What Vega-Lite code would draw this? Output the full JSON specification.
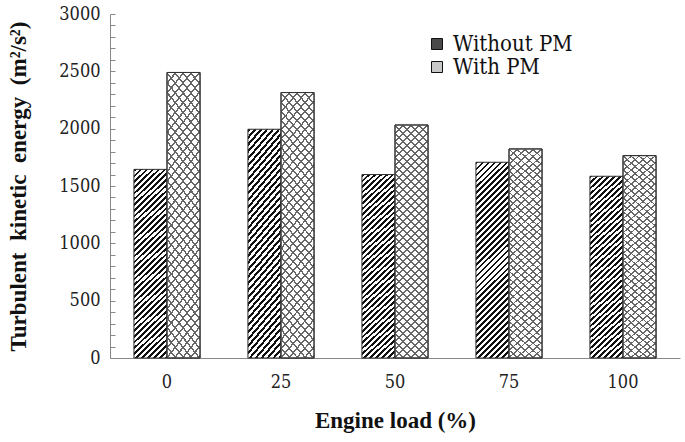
{
  "$schema": "https://vega.github.io/schema/vega-lite/v6.json",
  "width": 570,
  "height": 344,
  "autosize": "none",
  "padding": {"left": 110, "top": 14, "right": 5, "bottom": 84},
  "background": "white",
  "config": {
    "view": {"stroke": null},
    "font": "Liberation Serif",
    "axis": {"labelFont": "DejaVu Serif Condensed, DejaVu Serif", "titleFont": "Liberation Serif"},
    "legend": {"labelFont": "DejaVu Serif Condensed, DejaVu Serif", "titleFont": "Liberation Serif"}
  },
  "data": {
    "values": [
      {"load": "0", "series": "Without PM", "value": 1645},
      {"load": "0", "series": "With PM", "value": 2490},
      {"load": "25", "series": "Without PM", "value": 1995},
      {"load": "25", "series": "With PM", "value": 2315},
      {"load": "50", "series": "Without PM", "value": 1600},
      {"load": "50", "series": "With PM", "value": 2032},
      {"load": "75", "series": "Without PM", "value": 1707},
      {"load": "75", "series": "With PM", "value": 1823},
      {"load": "100", "series": "Without PM", "value": 1585},
      {"load": "100", "series": "With PM", "value": 1765}
    ]
  },
  "encoding": {
    "x": {
      "field": "load", "type": "nominal", "sort": ["0", "25", "50", "75", "100"],
      "scale": {"paddingInner": 0.42, "paddingOuter": 0.21},
      "axis": {
        "title": "Engine load (%)", "labelAngle": 0, "ticks": false, "domainColor": "#888",
        "labelFont": "DejaVu Serif Condensed, DejaVu Serif", "titleFont": "Liberation Serif",
        "labelFontSize": 18, "labelColor": "#222", "labelPadding": 15,
        "titleFontSize": 23, "titleFontWeight": "bold", "titleColor": "#111", "titlePadding": 18
      }
    },
    "xOffset": {
      "field": "series", "type": "nominal", "sort": ["Without PM", "With PM"],
      "scale": {"domain": ["Without PM", "With PM"], "paddingInner": 0, "paddingOuter": 0}
    },
    "y": {
      "field": "value", "type": "quantitative",
      "scale": {"domain": [0, 3000], "nice": false},
      "axis": {
        "title": "Turbulent\u00a0 kinetic\u00a0 energy\u00a0 (m²/s²)", "grid": false, "format": "d",
        "values": [0,100,200,300,400,500,600,700,800,900,1000,1100,1200,1300,1400,1500,1600,1700,1800,1900,2000,2100,2200,2300,2400,2500,2600,2700,2800,2900,3000],
        "labelExpr": "datum.value % 500 === 0 ? datum.label : ''",
        "tickSize": -5, "tickColor": "#888", "domainColor": "#888",
        "labelFont": "DejaVu Serif Condensed, DejaVu Serif", "titleFont": "Liberation Serif",
        "labelPadding": 15, "labelFontSize": 18, "labelColor": "#222",
        "titleFontSize": 23, "titleFontWeight": "bold", "titleColor": "#111", "titlePadding": 28
      }
    }
  },
  "layer": [
    {
      "mark": {"type": "bar"},
      "encoding": {
        "fill": {
          "field": "series", "type": "nominal",
          "scale": {"domain": ["Without PM", "With PM"], "range": ["#4a4a4a", "#c8c8c8"]},
          "legend": {
            "title": null, "orient": "none", "legendX": 316, "legendY": 19,
            "labelFont": "DejaVu Serif Condensed, DejaVu Serif", "labelFontSize": 22, "labelColor": "#111",
            "symbolType": "square", "symbolSize": 121, "symbolOpacity": 1,
            "symbolStrokeColor": "#111", "symbolStrokeWidth": 1, "rowPadding": 1, "labelOffset": 5
          }
        }
      }
    },
    {
      "transform": [{"filter": "datum.series === 'Without PM'"}],
      "mark": {
        "type": "bar", "stroke": "#333", "strokeWidth": 1,
        "fill": {"gradient": "linear", "x1": 0, "y1": 0, "x2": 0.1913, "y2": 1.136, "stops": [
                {"offset":0,"color":"#111"},{"offset":0.012,"color":"#111"},{"offset":0.012,"color":"#fff"},{"offset":0.026,"color":"#fff"},
                {"offset":0.026,"color":"#111"},{"offset":0.038,"color":"#111"},{"offset":0.038,"color":"#fff"},{"offset":0.052,"color":"#fff"},
                {"offset":0.052,"color":"#111"},{"offset":0.064,"color":"#111"},{"offset":0.064,"color":"#fff"},{"offset":0.078,"color":"#fff"},
                {"offset":0.078,"color":"#111"},{"offset":0.09,"color":"#111"},{"offset":0.09,"color":"#fff"},{"offset":0.104,"color":"#fff"},
                {"offset":0.104,"color":"#111"},{"offset":0.116,"color":"#111"},{"offset":0.116,"color":"#fff"},{"offset":0.13,"color":"#fff"},
                {"offset":0.13,"color":"#111"},{"offset":0.142,"color":"#111"},{"offset":0.142,"color":"#fff"},{"offset":0.156,"color":"#fff"},
                {"offset":0.156,"color":"#111"},{"offset":0.168,"color":"#111"},{"offset":0.168,"color":"#fff"},{"offset":0.182,"color":"#fff"},
                {"offset":0.182,"color":"#111"},{"offset":0.194,"color":"#111"},{"offset":0.194,"color":"#fff"},{"offset":0.208,"color":"#fff"},
                {"offset":0.208,"color":"#111"},{"offset":0.22,"color":"#111"},{"offset":0.22,"color":"#fff"},{"offset":0.234,"color":"#fff"},
                {"offset":0.234,"color":"#111"},{"offset":0.246,"color":"#111"},{"offset":0.246,"color":"#fff"},{"offset":0.26,"color":"#fff"},
                {"offset":0.26,"color":"#111"},{"offset":0.272,"color":"#111"},{"offset":0.272,"color":"#fff"},{"offset":0.286,"color":"#fff"},
                {"offset":0.286,"color":"#111"},{"offset":0.298,"color":"#111"},{"offset":0.298,"color":"#fff"},{"offset":0.312,"color":"#fff"},
                {"offset":0.312,"color":"#111"},{"offset":0.324,"color":"#111"},{"offset":0.324,"color":"#fff"},{"offset":0.338,"color":"#fff"},
                {"offset":0.338,"color":"#111"},{"offset":0.35,"color":"#111"},{"offset":0.35,"color":"#fff"},{"offset":0.364,"color":"#fff"},
                {"offset":0.364,"color":"#111"},{"offset":0.376,"color":"#111"},{"offset":0.376,"color":"#fff"},{"offset":0.39,"color":"#fff"},
                {"offset":0.39,"color":"#111"},{"offset":0.402,"color":"#111"},{"offset":0.402,"color":"#fff"},{"offset":0.416,"color":"#fff"},
                {"offset":0.416,"color":"#111"},{"offset":0.428,"color":"#111"},{"offset":0.428,"color":"#fff"},{"offset":0.442,"color":"#fff"},
                {"offset":0.442,"color":"#111"},{"offset":0.454,"color":"#111"},{"offset":0.454,"color":"#fff"},{"offset":0.468,"color":"#fff"},
                {"offset":0.468,"color":"#111"},{"offset":0.48,"color":"#111"},{"offset":0.48,"color":"#fff"},{"offset":0.494,"color":"#fff"},
                {"offset":0.494,"color":"#111"},{"offset":0.506,"color":"#111"},{"offset":0.506,"color":"#fff"},{"offset":0.52,"color":"#fff"},
                {"offset":0.52,"color":"#111"},{"offset":0.532,"color":"#111"},{"offset":0.532,"color":"#fff"},{"offset":0.546,"color":"#fff"},
                {"offset":0.546,"color":"#111"},{"offset":0.558,"color":"#111"},{"offset":0.558,"color":"#fff"},{"offset":0.572,"color":"#fff"},
                {"offset":0.572,"color":"#111"},{"offset":0.584,"color":"#111"},{"offset":0.584,"color":"#fff"},{"offset":0.598,"color":"#fff"},
                {"offset":0.598,"color":"#111"},{"offset":0.61,"color":"#111"},{"offset":0.61,"color":"#fff"},{"offset":0.624,"color":"#fff"},
                {"offset":0.624,"color":"#111"},{"offset":0.636,"color":"#111"},{"offset":0.636,"color":"#fff"},{"offset":0.65,"color":"#fff"},
                {"offset":0.65,"color":"#111"},{"offset":0.662,"color":"#111"},{"offset":0.662,"color":"#fff"},{"offset":0.676,"color":"#fff"},
                {"offset":0.676,"color":"#111"},{"offset":0.688,"color":"#111"},{"offset":0.688,"color":"#fff"},{"offset":0.702,"color":"#fff"},
                {"offset":0.702,"color":"#111"},{"offset":0.714,"color":"#111"},{"offset":0.714,"color":"#fff"},{"offset":0.728,"color":"#fff"},
                {"offset":0.728,"color":"#111"},{"offset":0.74,"color":"#111"},{"offset":0.74,"color":"#fff"},{"offset":0.754,"color":"#fff"},
                {"offset":0.754,"color":"#111"},{"offset":0.766,"color":"#111"},{"offset":0.766,"color":"#fff"},{"offset":0.78,"color":"#fff"},
                {"offset":0.78,"color":"#111"},{"offset":0.792,"color":"#111"},{"offset":0.792,"color":"#fff"},{"offset":0.806,"color":"#fff"},
                {"offset":0.806,"color":"#111"},{"offset":0.818,"color":"#111"},{"offset":0.818,"color":"#fff"},{"offset":0.832,"color":"#fff"},
                {"offset":0.832,"color":"#111"},{"offset":0.844,"color":"#111"},{"offset":0.844,"color":"#fff"},{"offset":0.858,"color":"#fff"},
                {"offset":0.858,"color":"#111"},{"offset":0.87,"color":"#111"},{"offset":0.87,"color":"#fff"},{"offset":0.884,"color":"#fff"},
                {"offset":0.884,"color":"#111"},{"offset":0.896,"color":"#111"},{"offset":0.896,"color":"#fff"},{"offset":0.91,"color":"#fff"},
                {"offset":0.91,"color":"#111"},{"offset":0.922,"color":"#111"},{"offset":0.922,"color":"#fff"},{"offset":0.936,"color":"#fff"},
                {"offset":0.936,"color":"#111"},{"offset":0.948,"color":"#111"},{"offset":0.948,"color":"#fff"},{"offset":0.962,"color":"#fff"},
                {"offset":0.962,"color":"#111"},{"offset":0.974,"color":"#111"},{"offset":0.974,"color":"#fff"},{"offset":0.988,"color":"#fff"},
                {"offset":0.988,"color":"#111"},{"offset":1,"color":"#111"}
        ]}
      },
      "encoding": {}
    },
    {
      "transform": [{"filter": "datum.series === 'With PM'"}],
      "mark": {
        "type": "bar", "stroke": "#333", "strokeWidth": 1,
        "fill": {"gradient": "linear", "x1": 0, "y1": 0, "x2": 0.1607, "y2": 1.12, "stops": [
                {"offset":0,"color":"#666"},{"offset":0.007,"color":"#666"},{"offset":0.007,"color":"#fff"},{"offset":0.03,"color":"#fff"},
                {"offset":0.03,"color":"#666"},{"offset":0.037,"color":"#666"},{"offset":0.037,"color":"#fff"},{"offset":0.06,"color":"#fff"},
                {"offset":0.06,"color":"#666"},{"offset":0.067,"color":"#666"},{"offset":0.067,"color":"#fff"},{"offset":0.09,"color":"#fff"},
                {"offset":0.09,"color":"#666"},{"offset":0.097,"color":"#666"},{"offset":0.097,"color":"#fff"},{"offset":0.12,"color":"#fff"},
                {"offset":0.12,"color":"#666"},{"offset":0.127,"color":"#666"},{"offset":0.127,"color":"#fff"},{"offset":0.15,"color":"#fff"},
                {"offset":0.15,"color":"#666"},{"offset":0.157,"color":"#666"},{"offset":0.157,"color":"#fff"},{"offset":0.18,"color":"#fff"},
                {"offset":0.18,"color":"#666"},{"offset":0.187,"color":"#666"},{"offset":0.187,"color":"#fff"},{"offset":0.21,"color":"#fff"},
                {"offset":0.21,"color":"#666"},{"offset":0.217,"color":"#666"},{"offset":0.217,"color":"#fff"},{"offset":0.24,"color":"#fff"},
                {"offset":0.24,"color":"#666"},{"offset":0.247,"color":"#666"},{"offset":0.247,"color":"#fff"},{"offset":0.27,"color":"#fff"},
                {"offset":0.27,"color":"#666"},{"offset":0.277,"color":"#666"},{"offset":0.277,"color":"#fff"},{"offset":0.3,"color":"#fff"},
                {"offset":0.3,"color":"#666"},{"offset":0.307,"color":"#666"},{"offset":0.307,"color":"#fff"},{"offset":0.33,"color":"#fff"},
                {"offset":0.33,"color":"#666"},{"offset":0.337,"color":"#666"},{"offset":0.337,"color":"#fff"},{"offset":0.36,"color":"#fff"},
                {"offset":0.36,"color":"#666"},{"offset":0.367,"color":"#666"},{"offset":0.367,"color":"#fff"},{"offset":0.39,"color":"#fff"},
                {"offset":0.39,"color":"#666"},{"offset":0.397,"color":"#666"},{"offset":0.397,"color":"#fff"},{"offset":0.42,"color":"#fff"},
                {"offset":0.42,"color":"#666"},{"offset":0.427,"color":"#666"},{"offset":0.427,"color":"#fff"},{"offset":0.45,"color":"#fff"},
                {"offset":0.45,"color":"#666"},{"offset":0.457,"color":"#666"},{"offset":0.457,"color":"#fff"},{"offset":0.48,"color":"#fff"},
                {"offset":0.48,"color":"#666"},{"offset":0.487,"color":"#666"},{"offset":0.487,"color":"#fff"},{"offset":0.51,"color":"#fff"},
                {"offset":0.51,"color":"#666"},{"offset":0.517,"color":"#666"},{"offset":0.517,"color":"#fff"},{"offset":0.54,"color":"#fff"},
                {"offset":0.54,"color":"#666"},{"offset":0.547,"color":"#666"},{"offset":0.547,"color":"#fff"},{"offset":0.57,"color":"#fff"},
                {"offset":0.57,"color":"#666"},{"offset":0.577,"color":"#666"},{"offset":0.577,"color":"#fff"},{"offset":0.6,"color":"#fff"},
                {"offset":0.6,"color":"#666"},{"offset":0.607,"color":"#666"},{"offset":0.607,"color":"#fff"},{"offset":0.63,"color":"#fff"},
                {"offset":0.63,"color":"#666"},{"offset":0.637,"color":"#666"},{"offset":0.637,"color":"#fff"},{"offset":0.66,"color":"#fff"},
                {"offset":0.66,"color":"#666"},{"offset":0.667,"color":"#666"},{"offset":0.667,"color":"#fff"},{"offset":0.69,"color":"#fff"},
                {"offset":0.69,"color":"#666"},{"offset":0.697,"color":"#666"},{"offset":0.697,"color":"#fff"},{"offset":0.72,"color":"#fff"},
                {"offset":0.72,"color":"#666"},{"offset":0.727,"color":"#666"},{"offset":0.727,"color":"#fff"},{"offset":0.75,"color":"#fff"},
                {"offset":0.75,"color":"#666"},{"offset":0.757,"color":"#666"},{"offset":0.757,"color":"#fff"},{"offset":0.78,"color":"#fff"},
                {"offset":0.78,"color":"#666"},{"offset":0.787,"color":"#666"},{"offset":0.787,"color":"#fff"},{"offset":0.81,"color":"#fff"},
                {"offset":0.81,"color":"#666"},{"offset":0.817,"color":"#666"},{"offset":0.817,"color":"#fff"},{"offset":0.84,"color":"#fff"},
                {"offset":0.84,"color":"#666"},{"offset":0.847,"color":"#666"},{"offset":0.847,"color":"#fff"},{"offset":0.87,"color":"#fff"},
                {"offset":0.87,"color":"#666"},{"offset":0.877,"color":"#666"},{"offset":0.877,"color":"#fff"},{"offset":0.9,"color":"#fff"},
                {"offset":0.9,"color":"#666"},{"offset":0.907,"color":"#666"},{"offset":0.907,"color":"#fff"},{"offset":0.93,"color":"#fff"},
                {"offset":0.93,"color":"#666"},{"offset":0.937,"color":"#666"},{"offset":0.937,"color":"#fff"},{"offset":0.96,"color":"#fff"},
                {"offset":0.96,"color":"#666"},{"offset":0.967,"color":"#666"},{"offset":0.967,"color":"#fff"},{"offset":0.99,"color":"#fff"},
                {"offset":0.99,"color":"#666"},{"offset":0.997,"color":"#666"},{"offset":0.997,"color":"#fff"},{"offset":1,"color":"#fff"}
        ]}
      },
      "encoding": {}
    },
    {
      "transform": [{"filter": "datum.series === 'With PM'"}],
      "mark": {
        "type": "bar", "stroke": "#333", "strokeWidth": 1,
        "fill": {"gradient": "linear", "x1": 0, "y1": 1, "x2": 0.1607, "y2": -0.12, "stops": [
          {"offset":0,"color":"#666"},{"offset":0.007,"color":"#666"},{"offset":0.007,"color":"rgba(255,255,255,0)"},{"offset":0.03,"color":"rgba(255,255,255,0)"},
          {"offset":0.03,"color":"#666"},{"offset":0.037,"color":"#666"},{"offset":0.037,"color":"rgba(255,255,255,0)"},{"offset":0.06,"color":"rgba(255,255,255,0)"},
          {"offset":0.06,"color":"#666"},{"offset":0.067,"color":"#666"},{"offset":0.067,"color":"rgba(255,255,255,0)"},{"offset":0.09,"color":"rgba(255,255,255,0)"},
          {"offset":0.09,"color":"#666"},{"offset":0.097,"color":"#666"},{"offset":0.097,"color":"rgba(255,255,255,0)"},{"offset":0.12,"color":"rgba(255,255,255,0)"},
          {"offset":0.12,"color":"#666"},{"offset":0.127,"color":"#666"},{"offset":0.127,"color":"rgba(255,255,255,0)"},{"offset":0.15,"color":"rgba(255,255,255,0)"},
          {"offset":0.15,"color":"#666"},{"offset":0.157,"color":"#666"},{"offset":0.157,"color":"rgba(255,255,255,0)"},{"offset":0.18,"color":"rgba(255,255,255,0)"},
          {"offset":0.18,"color":"#666"},{"offset":0.187,"color":"#666"},{"offset":0.187,"color":"rgba(255,255,255,0)"},{"offset":0.21,"color":"rgba(255,255,255,0)"},
          {"offset":0.21,"color":"#666"},{"offset":0.217,"color":"#666"},{"offset":0.217,"color":"rgba(255,255,255,0)"},{"offset":0.24,"color":"rgba(255,255,255,0)"},
          {"offset":0.24,"color":"#666"},{"offset":0.247,"color":"#666"},{"offset":0.247,"color":"rgba(255,255,255,0)"},{"offset":0.27,"color":"rgba(255,255,255,0)"},
          {"offset":0.27,"color":"#666"},{"offset":0.277,"color":"#666"},{"offset":0.277,"color":"rgba(255,255,255,0)"},{"offset":0.3,"color":"rgba(255,255,255,0)"},
          {"offset":0.3,"color":"#666"},{"offset":0.307,"color":"#666"},{"offset":0.307,"color":"rgba(255,255,255,0)"},{"offset":0.33,"color":"rgba(255,255,255,0)"},
          {"offset":0.33,"color":"#666"},{"offset":0.337,"color":"#666"},{"offset":0.337,"color":"rgba(255,255,255,0)"},{"offset":0.36,"color":"rgba(255,255,255,0)"},
          {"offset":0.36,"color":"#666"},{"offset":0.367,"color":"#666"},{"offset":0.367,"color":"rgba(255,255,255,0)"},{"offset":0.39,"color":"rgba(255,255,255,0)"},
          {"offset":0.39,"color":"#666"},{"offset":0.397,"color":"#666"},{"offset":0.397,"color":"rgba(255,255,255,0)"},{"offset":0.42,"color":"rgba(255,255,255,0)"},
          {"offset":0.42,"color":"#666"},{"offset":0.427,"color":"#666"},{"offset":0.427,"color":"rgba(255,255,255,0)"},{"offset":0.45,"color":"rgba(255,255,255,0)"},
          {"offset":0.45,"color":"#666"},{"offset":0.457,"color":"#666"},{"offset":0.457,"color":"rgba(255,255,255,0)"},{"offset":0.48,"color":"rgba(255,255,255,0)"},
          {"offset":0.48,"color":"#666"},{"offset":0.487,"color":"#666"},{"offset":0.487,"color":"rgba(255,255,255,0)"},{"offset":0.51,"color":"rgba(255,255,255,0)"},
          {"offset":0.51,"color":"#666"},{"offset":0.517,"color":"#666"},{"offset":0.517,"color":"rgba(255,255,255,0)"},{"offset":0.54,"color":"rgba(255,255,255,0)"},
          {"offset":0.54,"color":"#666"},{"offset":0.547,"color":"#666"},{"offset":0.547,"color":"rgba(255,255,255,0)"},{"offset":0.57,"color":"rgba(255,255,255,0)"},
          {"offset":0.57,"color":"#666"},{"offset":0.577,"color":"#666"},{"offset":0.577,"color":"rgba(255,255,255,0)"},{"offset":0.6,"color":"rgba(255,255,255,0)"},
          {"offset":0.6,"color":"#666"},{"offset":0.607,"color":"#666"},{"offset":0.607,"color":"rgba(255,255,255,0)"},{"offset":0.63,"color":"rgba(255,255,255,0)"},
          {"offset":0.63,"color":"#666"},{"offset":0.637,"color":"#666"},{"offset":0.637,"color":"rgba(255,255,255,0)"},{"offset":0.66,"color":"rgba(255,255,255,0)"},
          {"offset":0.66,"color":"#666"},{"offset":0.667,"color":"#666"},{"offset":0.667,"color":"rgba(255,255,255,0)"},{"offset":0.69,"color":"rgba(255,255,255,0)"},
          {"offset":0.69,"color":"#666"},{"offset":0.697,"color":"#666"},{"offset":0.697,"color":"rgba(255,255,255,0)"},{"offset":0.72,"color":"rgba(255,255,255,0)"},
          {"offset":0.72,"color":"#666"},{"offset":0.727,"color":"#666"},{"offset":0.727,"color":"rgba(255,255,255,0)"},{"offset":0.75,"color":"rgba(255,255,255,0)"},
          {"offset":0.75,"color":"#666"},{"offset":0.757,"color":"#666"},{"offset":0.757,"color":"rgba(255,255,255,0)"},{"offset":0.78,"color":"rgba(255,255,255,0)"},
          {"offset":0.78,"color":"#666"},{"offset":0.787,"color":"#666"},{"offset":0.787,"color":"rgba(255,255,255,0)"},{"offset":0.81,"color":"rgba(255,255,255,0)"},
          {"offset":0.81,"color":"#666"},{"offset":0.817,"color":"#666"},{"offset":0.817,"color":"rgba(255,255,255,0)"},{"offset":0.84,"color":"rgba(255,255,255,0)"},
          {"offset":0.84,"color":"#666"},{"offset":0.847,"color":"#666"},{"offset":0.847,"color":"rgba(255,255,255,0)"},{"offset":0.87,"color":"rgba(255,255,255,0)"},
          {"offset":0.87,"color":"#666"},{"offset":0.877,"color":"#666"},{"offset":0.877,"color":"rgba(255,255,255,0)"},{"offset":0.9,"color":"rgba(255,255,255,0)"},
          {"offset":0.9,"color":"#666"},{"offset":0.907,"color":"#666"},{"offset":0.907,"color":"rgba(255,255,255,0)"},{"offset":0.93,"color":"rgba(255,255,255,0)"},
          {"offset":0.93,"color":"#666"},{"offset":0.937,"color":"#666"},{"offset":0.937,"color":"rgba(255,255,255,0)"},{"offset":0.96,"color":"rgba(255,255,255,0)"},
          {"offset":0.96,"color":"#666"},{"offset":0.967,"color":"#666"},{"offset":0.967,"color":"rgba(255,255,255,0)"},{"offset":0.99,"color":"rgba(255,255,255,0)"},
          {"offset":0.99,"color":"#666"},{"offset":0.997,"color":"#666"},{"offset":0.997,"color":"rgba(255,255,255,0)"},{"offset":1,"color":"rgba(255,255,255,0)"}
        ]}
      },
      "encoding": {}
    }
  ]
}
